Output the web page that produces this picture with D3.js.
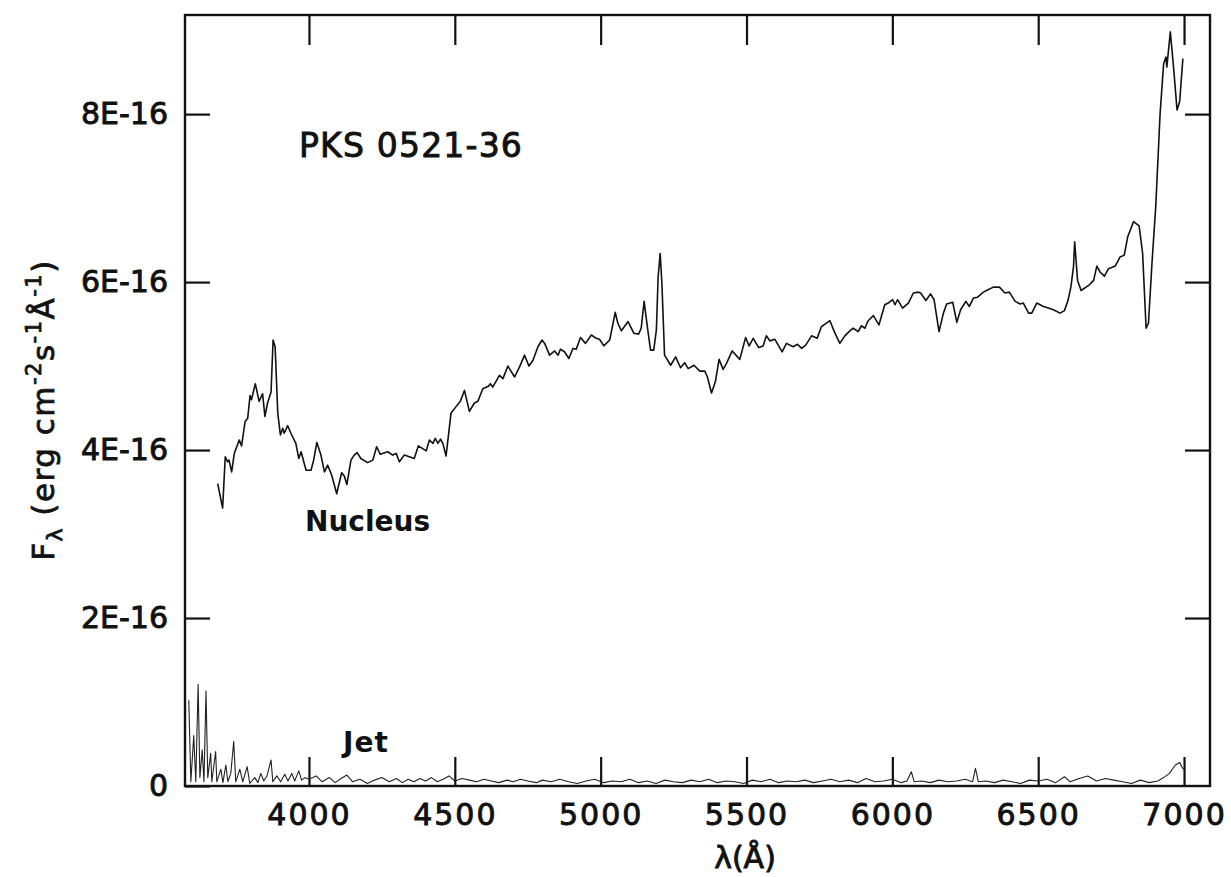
<!DOCTYPE html>
<html>
<head>
  <meta charset="utf-8" />
  <title>PKS 0521-36</title>
  <style type="text/css">
    html, body { margin: 0; background: #fff; }
    svg text { font-family: "DejaVu Sans", sans-serif; fill: #111; }
  </style>
</head>
<body>
<div id="container"></div>
<script src="https://cdn.jsdelivr.net/npm/d3@7"></script>
<script>
// wavelength in Angstrom, flux in units of 1E-16 erg cm^-2 s^-1 A^-1
var nucleusWave = [3687, 3704, 3713, 3721, 3726, 3735, 3744, 3761, 3769, 3781, 3790, 3798, 3803, 3816, 3829, 3841, 3849, 3858, 3870, 3877,
  3884, 3893, 3902, 3910, 3915, 3927, 3938, 3955, 3965, 3973, 3990, 4007, 4016, 4027, 4041, 4053, 4064, 4078, 4095, 4112,
  4121, 4130, 4144, 4155, 4165, 4178, 4201, 4219, 4232, 4244, 4270, 4287, 4299, 4310, 4327, 4344, 4361, 4375, 4402, 4413,
  4425, 4433, 4442, 4451, 4459, 4470, 4487, 4505, 4519, 4533, 4550, 4567, 4579, 4596, 4615, 4622, 4630, 4653, 4665, 4682,
  4705, 4722, 4739, 4754, 4768, 4785, 4799, 4808, 4825, 4842, 4854, 4862, 4876, 4891, 4905, 4916, 4931, 4948, 4968, 4985,
  4996, 5011, 5031, 5050, 5059, 5071, 5094, 5114, 5130, 5139, 5149, 5160, 5171, 5182, 5191, 5197, 5204, 5210, 5219, 5240,
  5257, 5274, 5288, 5300, 5320, 5340, 5357, 5366, 5380, 5393, 5406, 5420, 5431, 5451, 5477, 5497, 5509, 5523, 5542, 5557,
  5568, 5580, 5597, 5622, 5637, 5660, 5675, 5689, 5703, 5723, 5742, 5757, 5786, 5801, 5820, 5837, 5858, 5866, 5883, 5894,
  5906, 5917, 5935, 5954, 5974, 5986, 6001, 6009, 6018, 6035, 6055, 6072, 6089, 6097, 6115, 6131, 6143, 6160, 6175, 6186,
  6198, 6207, 6221, 6234, 6252, 6264, 6278, 6292, 6312, 6323, 6346, 6367, 6386, 6401, 6421, 6438, 6449, 6467, 6478, 6495,
  6518, 6535, 6552, 6575, 6590, 6602, 6612, 6621, 6625, 6635, 6647, 6673, 6690, 6701, 6712, 6727, 6741, 6764, 6781, 6795, 6807,
  6827, 6846, 6858, 6870, 6878, 6890, 6903, 6918, 6930, 6938, 6941, 6953, 6964, 6976, 6985, 6996];
var nucleusFlux = [3.60, 3.31, 3.92, 3.86, 3.88, 3.74, 3.96, 4.12, 4.05, 4.34, 4.38, 4.65, 4.60, 4.79, 4.58, 4.67, 4.40, 4.56, 4.69, 5.31,
  5.23, 4.44, 4.18, 4.26, 4.20, 4.29, 4.20, 4.08, 3.90, 3.98, 3.76, 3.76, 3.88, 4.09, 3.94, 3.74, 3.82, 3.70, 3.48, 3.73,
  3.69, 3.59, 3.88, 3.94, 3.97, 3.90, 3.85, 3.88, 4.04, 3.95, 3.98, 3.94, 3.96, 3.86, 3.94, 3.92, 3.90, 4.05, 3.99, 4.12,
  4.08, 4.14, 4.08, 4.13, 4.08, 3.93, 4.44, 4.52, 4.58, 4.71, 4.46, 4.56, 4.58, 4.73, 4.76, 4.79, 4.75, 4.89, 4.85, 5.00,
  4.87, 4.99, 5.13, 5.00, 5.07, 5.23, 5.31, 5.27, 5.13, 5.18, 5.13, 5.20, 5.17, 5.09, 5.21, 5.20, 5.34, 5.27, 5.37, 5.33,
  5.32, 5.24, 5.31, 5.64, 5.51, 5.42, 5.53, 5.39, 5.38, 5.45, 5.77, 5.47, 5.19, 5.19, 5.43, 6.06, 6.34, 5.98, 5.13, 5.01,
  5.11, 4.98, 5.04, 4.97, 5.01, 4.94, 4.94, 4.87, 4.68, 4.81, 5.08, 4.96, 5.03, 5.18, 5.08, 5.34, 5.24, 5.33, 5.22, 5.24,
  5.36, 5.30, 5.32, 5.17, 5.27, 5.23, 5.26, 5.21, 5.25, 5.36, 5.33, 5.47, 5.54, 5.41, 5.27, 5.36, 5.43, 5.45, 5.41, 5.48,
  5.45, 5.54, 5.60, 5.49, 5.73, 5.75, 5.79, 5.73, 5.79, 5.69, 5.75, 5.87, 5.88, 5.87, 5.78, 5.86, 5.79, 5.41, 5.63, 5.74,
  5.75, 5.76, 5.52, 5.67, 5.77, 5.71, 5.81, 5.82, 5.88, 5.90, 5.94, 5.94, 5.87, 5.88, 5.77, 5.74, 5.75, 5.63, 5.63, 5.75,
  5.71, 5.69, 5.67, 5.63, 5.66, 5.78, 5.94, 6.18, 6.48, 6.02, 5.90, 5.96, 6.02, 6.19, 6.12, 6.07, 6.16, 6.19, 6.30, 6.32, 6.54,
  6.72, 6.67, 6.34, 5.45, 5.51, 6.22, 6.90, 8.01, 8.60, 8.68, 8.56, 8.98, 8.56, 8.05, 8.15, 8.66];

var jetWave = [3588, 3595, 3605, 3612, 3620, 3626, 3634, 3640, 3647, 3653, 3663, 3667, 3680, 3684, 3698, 3705, 3715, 3722, 3732, 3742,
  3749, 3763, 3773, 3788, 3797, 3814, 3825, 3835, 3845, 3856, 3870, 3876, 3890, 3903, 3917, 3928, 3941, 3951, 3965, 3975,
  3986, 4000, 4025, 4045, 4070, 4090, 4110, 4130, 4150, 4175, 4200, 4225, 4250, 4275, 4300, 4320, 4340, 4360, 4380, 4400,
  4420, 4440, 4460, 4480, 4500, 4525, 4550, 4575, 4600, 4625, 4650, 4680, 4700, 4725, 4750, 4780, 4800, 4830, 4860, 4890,
  4920, 4950, 4980, 5010, 5040, 5070, 5100, 5130, 5160, 5190, 5220, 5250, 5280, 5310, 5340, 5370, 5400, 5430, 5460, 5490,
  5520, 5550, 5580, 5610, 5640, 5670, 5700, 5730, 5760, 5790, 5820, 5850, 5880, 5910, 5940, 5970, 6000, 6030, 6050, 6065,
  6075, 6100, 6130, 6160, 6190, 6220, 6250, 6275, 6285, 6295, 6320, 6350, 6380, 6410, 6440, 6470, 6500, 6530, 6560, 6590,
  6610, 6640, 6670, 6700, 6730, 6760, 6790, 6820, 6850, 6880, 6910, 6930, 6950, 6970, 6985, 6995, 7000];
var jetFlux = [1.02, 0.05, 0.60, 0.05, 1.21, 0.10, 0.43, 0.05, 1.13, 0.10, 0.39, 0.05, 0.41, 0.05, 0.20, 0.04, 0.25, 0.05, 0.15, 0.53,
  0.05, 0.20, 0.05, 0.23, 0.03, 0.10, 0.04, 0.15, 0.06, 0.12, 0.31, 0.05, 0.12, 0.05, 0.14, 0.06, 0.15, 0.06, 0.18, 0.07,
  0.10, 0.08, 0.12, 0.05, 0.10, 0.04, 0.09, 0.13, 0.05, 0.08, 0.03, 0.07, 0.10, 0.05, 0.09, 0.04, 0.08, 0.05, 0.09, 0.06,
  0.10, 0.05, 0.08, 0.12, 0.06, 0.09, 0.07, 0.05, 0.08, 0.06, 0.04, 0.07, 0.05, 0.08, 0.06, 0.04, 0.07, 0.05, 0.08, 0.05,
  0.03, 0.06, 0.08, 0.04, 0.06, 0.05, 0.08, 0.04, 0.06, 0.03, 0.07, 0.05, 0.04, 0.07, 0.05, 0.08, 0.04, 0.06, 0.05, 0.03,
  0.07, 0.05, 0.08, 0.04, 0.06, 0.05, 0.07, 0.04, 0.06, 0.08, 0.05, 0.07, 0.04, 0.09, 0.05, 0.06, 0.08, 0.04, 0.06, 0.17,
  0.05, 0.06, 0.04, 0.07, 0.05, 0.06, 0.08, 0.05, 0.21, 0.05, 0.06, 0.04, 0.07, 0.05, 0.03, 0.07, 0.06, 0.08, 0.04, 0.11,
  0.05, 0.09, 0.12, 0.06, 0.09, 0.07, 0.05, 0.03, 0.07, 0.04, 0.06, 0.10, 0.15, 0.25, 0.28, 0.21, 0.20];

var xTicks = [4000, 4500, 5000, 5500, 6000, 6500, 7000];
var yTicks = [0, 2, 4, 6, 8];
var yTickLabels = ["0", "2E-16", "4E-16", "6E-16", "8E-16"];

var width = 1231, height = 877;
// plot frame (don't use "top" as a global name, it clashes with window.top)
var frameL = 185, frameR = 1210, frameT = 15, frameB = 786;

var svg = d3.select("#container").append("svg")
    .attr("width", width)
    .attr("height", height);

var x = d3.scaleLinear().domain([3575, 7089]).range([frameL, frameR]);
var y = d3.scaleLinear().domain([0, 9.18]).range([frameB, frameT]);

function styleAxis(g) {
  g.select(".domain").remove();
  g.selectAll(".tick line").attr("stroke", "#111").attr("stroke-width", 2.2);
  g.selectAll(".tick text")
    .style("font-family", "'DejaVu Sans', sans-serif")
    .style("font-size", "30px")
    .attr("fill", "#111")
    .attr("stroke", "#111")
    .attr("stroke-width", 0.9);
}

// bottom axis, ticks point inward
svg.append("g")
  .attr("transform", "translate(0," + frameB + ")")
  .call(d3.axisBottom(x).tickValues(xTicks).tickSize(-29).tickPadding(18).tickFormat(d3.format("d")))
  .call(styleAxis)
  .selectAll(".tick text").attr("letter-spacing", 2);

svg.append("g")
  .attr("transform", "translate(0," + frameT + ")")
  .call(d3.axisTop(x).tickValues(xTicks).tickSize(-30).tickFormat(""))
  .call(styleAxis);

svg.append("g")
  .attr("transform", "translate(" + frameL + ",0)")
  .call(d3.axisLeft(y).tickValues(yTicks).tickSize(-25).tickPadding(17)
    .tickFormat(function(d, i) { return yTickLabels[i]; }))
  .call(styleAxis);

svg.append("g")
  .attr("transform", "translate(" + frameR + ",0)")
  .call(d3.axisRight(y).tickValues(yTicks.slice(1)).tickSize(-25).tickFormat(""))
  .call(styleAxis);

// frame
svg.append("rect")
  .attr("x", frameL).attr("y", frameT)
  .attr("width", frameR - frameL).attr("height", frameB - frameT)
  .attr("fill", "none").attr("stroke", "#111").attr("stroke-width", 2.4);

var line = d3.line()
  .x(function(d) { return x(d[0]); })
  .y(function(d) { return y(d[1]); });

var nucleus = d3.zip(nucleusWave, nucleusFlux);
var jet = d3.zip(jetWave, jetFlux);

svg.append("path").datum(nucleus)
  .attr("d", line)
  .attr("fill", "none").attr("stroke", "#111").attr("stroke-width", 1.6)
  .attr("stroke-linejoin", "round");

svg.append("path").datum(jet)
  .attr("d", line)
  .attr("fill", "none").attr("stroke", "#222").attr("stroke-width", 1.1)
  .attr("stroke-linejoin", "round");

// labels
svg.append("text")
  .attr("x", 299).attr("y", 157)
  .attr("letter-spacing", 1.2)
  .attr("stroke", "#111").attr("stroke-width", 0.9)
  .style("font-size", "33px")
  .text("PKS 0521-36");

svg.append("text")
  .attr("x", 305).attr("y", 531)
  .style("font-size", "28px").style("font-weight", "bold")
  .text("Nucleus");

svg.append("text")
  .attr("x", 343).attr("y", 752)
  .attr("letter-spacing", 1)
  .style("font-size", "28px").style("font-weight", "bold")
  .text("Jet");

svg.append("text")
  .attr("x", 745).attr("y", 868)
  .attr("text-anchor", "middle")
  .attr("stroke", "#111").attr("stroke-width", 0.9)
  .style("font-size", "30px")
  .text("\u03bb(\u00c5)");

var ylab = svg.append("text")
  .attr("transform", "translate(54,410) rotate(-90)")
  .attr("text-anchor", "middle")
  .attr("letter-spacing", 1.5)
  .attr("stroke", "#111").attr("stroke-width", 0.8)
  .style("font-size", "31px");
ylab.append("tspan").text("F");
ylab.append("tspan").attr("dy", 8).style("font-size", "22px").text("\u03bb");
ylab.append("tspan").attr("dy", -8).text(" (erg cm");
ylab.append("tspan").attr("dy", -13).style("font-size", "21px").text("-2");
ylab.append("tspan").attr("dy", 13).text("s");
ylab.append("tspan").attr("dy", -13).style("font-size", "21px").text("-1");
ylab.append("tspan").attr("dy", 13).text("\u00c5");
ylab.append("tspan").attr("dy", -13).style("font-size", "21px").text("-1");
ylab.append("tspan").attr("dy", 13).text(")");
</script>
</body>
</html>
